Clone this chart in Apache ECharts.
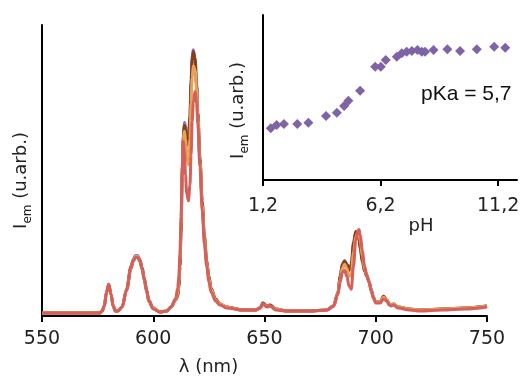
<!DOCTYPE html>
<html>
<head>
<meta charset="utf-8">
<script src="https://cdn.jsdelivr.net/npm/echarts@6/dist/echarts.min.js"></script>
<style>
html,body{margin:0;padding:0;background:#fff;}
#chart{width:523px;height:381px;}
</style>
</head>
<body>
<div id="chart"></div>
<script>
// ---- Main emission spectra (λ in nm, intensity arbitrary units) ----
const wavelengths = [550,560,570,576,577,578,579,580,581,582,583,584,586,588,590,591,592,593,594,595,596,597,598,600,603,606,608,610,611,611.5,612,612.5,613,613.5,614,614.5,615,615.8,616.5,617,617.5,618,618.8,619.5,620,621,622,623,624,625,626,628,630,633,640,646,648,649.3,651,652.5,655,660,670,678,681,683,684,685,686,687,688,689,690,691,692,692.5,693,694,695,696,697,698,699,700,702,703.5,705,706,707,708,710,715,720,730,740,750];

const spectrumPurple = [3,3,3,3,5,10,24,32,22,10,5,5,9,27,50,57,61,61,57,49,38,27,16,8,4,5,9,16,20,30,50,86,142,182,195,192,182,175,203,238,262,268,260,234,206,160,116,80,56,40,28,17,12,9,6,6,8,13,10,11,7,5,5,6,10,24,40,52,56,52,46,50,72,84,83,78,70,56,46,41,35,27,19,14,14,20,16,12,11,12,9,7,6,7,8,10];
const spectrumBrown  = [3,3,3,3,5,10,24,31,22,10,5,5,9,26,49,56,60,60,56,48,37,26,15,8,4,5,9,16,20,30,50,85,140,180,192,188,178,172,200,235,258,266,258,232,205,158,115,80,56,40,28,17,12,9,6,6,8,13,10,11,7,5,5,6,10,23,40,52,55,52,46,52,74,85,82,76,68,54,45,40,34,26,18,14,14,20,16,12,11,12,9,7,6,7,8,10];
const spectrumOrange = [3,3,3,3,5,10,24,31,22,10,5,5,9,26,48,55,60,60,55,47,36,25,15,8,4,5,9,16,22,34,55,92,145,178,186,178,162,152,178,215,240,252,248,228,202,156,112,77,54,38,27,16,12,9,6,6,8,12,10,10,7,5,5,6,10,23,37,48,52,48,40,42,64,80,84,82,76,60,47,41,35,26,18,14,14,19,16,12,11,12,9,7,6,7,8,10];
const spectrumRed    = [3,3,3,3,5,10,24,32,22,10,5,5,9,26,48,55,59,59,55,47,36,25,15,7,4,5,9,17,28,40,62,100,150,176,166,142,124,116,132,162,196,215,226,214,194,150,106,72,50,34,24,15,11,8,6,6,8,12,9,10,6,5,5,6,10,22,34,44,46,40,30,27,50,76,86,87,82,66,50,41,34,25,18,13,13,17,15,11,10,11,8,6,5,6,7,9];

// ---- Inset: emission intensity vs pH ----
const phValues = [1.53,1.78,2.09,2.66,3.13,3.88,4.34,4.65,4.83,5.33,5.97,6.21,6.42,6.89,7.10,7.31,7.53,7.77,7.95,8.09,8.45,9.04,9.58,10.29,11.03,11.50];
const phIntensity = [31.3,33.3,33.9,33.9,34.7,38.8,40.8,44.8,48.1,54.1,68.7,68.7,72.7,74.7,76.8,77.8,78.2,78.8,77.8,77.8,78.8,79.2,78.2,79.2,80.8,80.2];
const phTicks = [1.2, 6.2, 11.2];
const xTicksMain = [550, 600, 650, 700, 750];
const pKaText = 'pKa = 5,7';

const pair = (xs, ys) => xs.map((x, i) => [x, ys[i]]);
const FONT = 'DejaVu Sans';
const TXT = '#222';

const chart = echarts.init(document.getElementById('chart'), null, {renderer: 'canvas'});

const lineSeries = (name, data, color) => ({
  name, type: 'line', xAxisIndex: 0, yAxisIndex: 0,
  data: pair(wavelengths, data), showSymbol: false, symbol: 'none',
  smooth: 0.35, smoothMonotone: 'x',
  lineStyle: {color, width: 3}, animation: false, z: 2
});

const yName = '{i|I}{s|em}{i| (u.arb.)}';
const yNameStyle = (padEnd) => ({
  padding: [0, padEnd, 0, 0],
  rich: {
    i: {fontSize: 18, fontFamily: FONT, color: TXT, lineHeight: 20, verticalAlign: 'top'},
    s: {fontSize: 12, fontFamily: FONT, color: TXT, lineHeight: 12, padding: [11, 0, 0, 0]}
  }
});

chart.setOption({
  animation: false,
  backgroundColor: '#fff',
  grid: [
    {left: 42, right: 36, top: 25, bottom: 63},
    {left: 263, right: 6, top: 15, bottom: 201}
  ],
  xAxis: [
    {
      type: 'value', gridIndex: 0, min: 550, max: 750, interval: 50,
      name: 'λ (nm)', nameLocation: 'middle', nameGap: 42,
      nameTextStyle: {fontSize: 18, fontFamily: FONT, color: TXT, padding: [0, 112, 0, 0]},
      axisLine: {show: true, lineStyle: {color: '#000', width: 2}},
      axisTick: {show: true, length: 6, lineStyle: {color: '#000', width: 2}, customValues: xTicksMain},
      axisLabel: {fontSize: 19, fontFamily: FONT, color: TXT, margin: 14, customValues: xTicksMain},
      splitLine: {show: false}
    },
    {
      type: 'value', gridIndex: 1, min: 1.2, max: 12,
      name: 'pH', nameLocation: 'middle', nameGap: 30,
      nameTextStyle: {fontSize: 18, fontFamily: FONT, color: TXT, padding: [0, 0, 0, 62]},
      axisLine: {show: true, lineStyle: {color: '#000', width: 2}},
      axisTick: {show: true, length: 6, lineStyle: {color: '#000', width: 2}, customValues: phTicks},
      axisLabel: {fontSize: 19, fontFamily: FONT, color: TXT, margin: 17, customValues: phTicks,
        formatter: v => String(v).replace('.', ',')},
      splitLine: {show: false}
    }
  ],
  yAxis: [
    {
      type: 'value', gridIndex: 0, min: 0, max: 293,
      name: yName, nameLocation: 'middle', nameGap: 10, nameRotate: 90,
      nameTextStyle: yNameStyle(20),
      axisLine: {show: true, lineStyle: {color: '#000', width: 2}},
      axisTick: {show: false}, axisLabel: {show: false}, splitLine: {show: false}
    },
    {
      type: 'value', gridIndex: 1, min: 0, max: 100,
      name: yName, nameLocation: 'middle', nameGap: 14, nameRotate: 90,
      nameTextStyle: yNameStyle(26),
      axisLine: {show: true, lineStyle: {color: '#000', width: 2}},
      axisTick: {show: false}, axisLabel: {show: false}, splitLine: {show: false}
    }
  ],
  graphic: [
    {type: 'text', left: 421, top: 84, z: 10,
     style: {text: pKaText, fontSize: 21, fontFamily: 'Liberation Sans', fill: '#111'}}
  ],
  series: [
    lineSeries('s1', spectrumPurple, '#8877c0'),
    lineSeries('s2', spectrumBrown, '#8b3c10'),
    lineSeries('s3', spectrumOrange, '#e8a35a'),
    lineSeries('s4', spectrumRed, '#d5605b'),
    {
      name: 'pH', type: 'scatter', xAxisIndex: 1, yAxisIndex: 1,
      data: pair(phValues, phIntensity), symbol: 'diamond', symbolSize: 10,
      itemStyle: {color: '#7f63a6', opacity: 1}, z: 3
    }
  ]
});
</script>
</body>
</html>
